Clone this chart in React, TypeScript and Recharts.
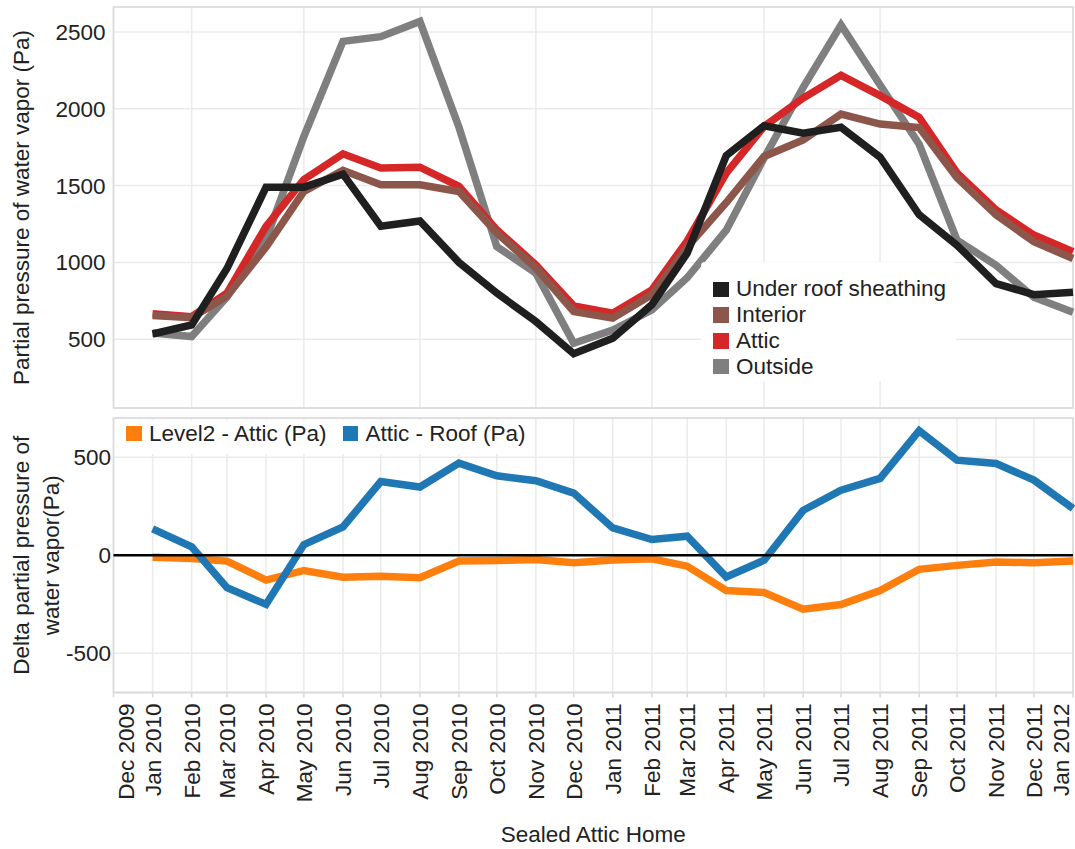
import React from 'react';
import { LineChart, Line, XAxis, YAxis, CartesianGrid, ReferenceLine, ReferenceArea } from 'recharts';

const FONT = '"Liberation Sans", Arial, sans-serif';
const TEXT = '#222';
const GRID = '#ebebeb';
const BORDER = '#d9d9d9';

// tick labels on the time axis (first one is the axis start, no data there)
const monthLabels = [
  'Dec 2009', 'Jan 2010', 'Feb 2010', 'Mar 2010', 'Apr 2010', 'May 2010', 'Jun 2010',
  'Jul 2010', 'Aug 2010', 'Sep 2010', 'Oct 2010', 'Nov 2010', 'Dec 2010', 'Jan 2011',
  'Feb 2011', 'Mar 2011', 'Apr 2011', 'May 2011', 'Jun 2011', 'Jul 2011', 'Aug 2011',
  'Sep 2011', 'Oct 2011', 'Nov 2011', 'Dec 2011', 'Jan 2012',
];
const pointMonths = monthLabels.slice(1);

// partial pressure of water vapor (Pa), Jan 2010 .. Jan 2012
const underRoof = [534, 593, 960, 1490, 1490, 1575, 1235, 1270, 1000, 800, 615, 405, 506, 725, 1060, 1695, 1890, 1842, 1880, 1685, 1310, 1112, 862, 790, 805];
const interior = [655, 640, 780, 1100, 1462, 1600, 1505, 1505, 1462, 1192, 964, 680, 637, 790, 1100, 1390, 1690, 1798, 1966, 1901, 1878, 1551, 1310, 1134, 1025];
const attic = [665, 647, 800, 1235, 1540, 1707, 1615, 1620, 1495, 1212, 984, 717, 669, 821, 1140, 1581, 1885, 2070, 2218, 2086, 1944, 1583, 1342, 1178, 1069];
const outside = [540, 517, 775, 1150, 1820, 2439, 2470, 2569, 1880, 1103, 930, 474, 560, 690, 900, 1210, 1680, 2140, 2546, 2155, 1769, 1145, 981, 773, 675];

// deltas (Pa)
const level2MinusAttic = [-10, -17, -30, -127, -78, -112, -107, -115, -30, -27, -22, -39, -25, -18, -56, -180, -190, -275, -252, -180, -72, -52, -35, -38, -30];
const atticMinusRoof = [134, 43, -166, -251, 54, 144, 376, 348, 470, 405, 380, 317, 139, 80, 97, -111, -26, 229, 332, 392, 635, 485, 468, 383, 238];

const topTicks = [500, 1000, 1500, 2000, 2500];
const bottomTicks = [-500, 0, 500];

const topSeries = [
  { key: 'underRoof', name: 'Under roof sheathing', color: '#1f1f1f' },
  { key: 'interior', name: 'Interior', color: '#8c564b' },
  { key: 'attic', name: 'Attic', color: '#d62728' },
  { key: 'outside', name: 'Outside', color: '#7f7f7f' },
];
const bottomSeries = [
  { key: 'level2MinusAttic', name: 'Level2 - Attic (Pa)', color: '#ff7f0e' },
  { key: 'atticMinusRoof', name: 'Attic - Roof (Pa)', color: '#1f77b4' },
];

const MONTHS: Record<string, number> = {
  Jan: 0, Feb: 1, Mar: 2, Apr: 3, May: 4, Jun: 5, Jul: 6, Aug: 7, Sep: 8, Oct: 9, Nov: 10, Dec: 11,
};
const toTime = (label: string) => {
  const [m, y] = label.split(' ');
  return Date.UTC(Number(y), MONTHS[m], 1);
};

const tickTimes = monthLabels.map(toTime);
const labelByTime = new Map(tickTimes.map((t, i) => [t, monthLabels[i]]));
const xDomain = [tickTimes[0], tickTimes[tickTimes.length - 1]];
const topDomain = [52, 2663];
const bottomDomain = [-700, 700];

const data = pointMonths.map((m, i) => ({
  t: toTime(m),
  underRoof: underRoof[i],
  interior: interior[i],
  attic: attic[i],
  outside: outside[i],
  level2MinusAttic: level2MinusAttic[i],
  atticMinusRoof: atticMinusRoof[i],
}));

const MonthTick = (props: any) => {
  const { x, y, payload } = props;
  const v = payload.value;
  // keep the end labels inside the axis range
  const shift = v === xDomain[0] ? 12.5 : v === xDomain[1] ? -12 : 0;
  return (
    <text
      transform={`translate(${x + shift},${y + 4}) rotate(-90)`}
      textAnchor="end"
      dy="0.355em"
      fontSize={22.5}
      fill={TEXT}
      fontFamily={FONT}
    >
      {labelByTime.get(v)}
    </text>
  );
};

const yTitle = (lines: string[]) => (props: any) => {
  const vb = props.viewBox;
  const cy = vb.y + vb.height / 2;
  return (
    <g>
      {lines.map((line, i) => {
        const x = vb.x + 29 + i * 30.5;
        return (
          <text
            key={i}
            x={x}
            y={cy}
            transform={`rotate(-90, ${x}, ${cy})`}
            textAnchor="middle"
            fontSize={22.5}
            fill={TEXT}
            fontFamily={FONT}
          >
            {line}
          </text>
        );
      })}
    </g>
  );
};

const xTitle = (props: any) => {
  const vb = props.viewBox;
  return (
    <text x={vb.x + vb.width / 2} y={vb.y + 150} textAnchor="middle" fontSize={22.5} fill={TEXT} fontFamily={FONT}>
      Sealed Attic Home
    </text>
  );
};

const swatch = (color: string) => (
  <span style={{ display: 'inline-block', width: 15.5, height: 15.5, background: color, marginRight: 7.5 }} />
);

const App: React.FC = () => {
  return (
    <div style={{ position: 'relative', width: 1075, height: 849, fontFamily: FONT, color: TEXT }}>
      <style>{'body{margin:0}'}</style>
      <LineChart width={1075} height={410} data={data} margin={{ top: 7, right: 2, bottom: 2, left: 0 }}>
        <CartesianGrid stroke={GRID} strokeWidth={1.5} />
        <XAxis dataKey="t" type="number" domain={xDomain} ticks={tickTimes} hide />
        <YAxis
          type="number"
          domain={topDomain}
          ticks={topTicks}
          allowDataOverflow
          width={113.5}
          axisLine={false}
          tickLine={false}
          tickSize={6}
          tickMargin={2}
          tick={{ fontSize: 22.5, fill: TEXT, fontFamily: FONT }}
          label={{ content: yTitle(['Partial pressure of water vapor (Pa)']) }}
        />
        <ReferenceArea x1={xDomain[0]} x2={xDomain[1]} y1={topDomain[0]} y2={topDomain[1]} fill="none" stroke={BORDER} strokeWidth={1.5} />
        {[...topSeries].reverse().map(s => (
          <Line
            key={s.key}
            type="linear"
            dataKey={s.key}
            name={s.name}
            stroke={s.color}
            strokeWidth={7.5}
            dot={false}
            activeDot={false}
            isAnimationActive={false}
          />
        ))}
      </LineChart>
      <LineChart width={1075} height={439} data={data} margin={{ top: 8, right: 2, bottom: 0, left: 0 }}>
        <CartesianGrid stroke={GRID} strokeWidth={1.5} />
        <XAxis
          dataKey="t"
          type="number"
          domain={xDomain}
          ticks={tickTimes}
          interval={0}
          height={156.6}
          axisLine={{ stroke: BORDER, strokeWidth: 1.5 }}
          tickLine={{ stroke: BORDER, strokeWidth: 1.5 }}
          tickSize={5}
          tickMargin={2}
          tick={<MonthTick />}
          label={{ content: xTitle }}
        />
        <YAxis
          type="number"
          domain={bottomDomain}
          ticks={bottomTicks}
          allowDataOverflow
          width={113.5}
          axisLine={false}
          tickLine={false}
          tickSize={0}
          tickMargin={2.5}
          tick={{ fontSize: 22.5, fill: TEXT, fontFamily: FONT }}
          label={{ content: yTitle(['Delta partial pressure of', 'water vapor(Pa)']) }}
        />
        <ReferenceArea x1={xDomain[0]} x2={xDomain[1]} y1={bottomDomain[0]} y2={bottomDomain[1]} fill="none" stroke={BORDER} strokeWidth={1.5} />
        {bottomSeries.map(s => (
          <Line
            key={s.key}
            type="linear"
            dataKey={s.key}
            name={s.name}
            stroke={s.color}
            strokeWidth={7.5}
            dot={false}
            activeDot={false}
            isAnimationActive={false}
          />
        ))}
        <ReferenceLine y={0} stroke="#000" strokeWidth={2.5} />
      </LineChart>

      {/* legends */}
      <div
        style={{
          position: 'absolute', left: 701, top: 262, width: 255, height: 119, background: '#fff',
          borderRadius: 4, paddingTop: 14.4, paddingLeft: 12, boxSizing: 'border-box', fontSize: 22.5,
        }}
      >
        {topSeries.map(s => (
          <div key={s.key} style={{ display: 'flex', alignItems: 'center', height: 25.8, whiteSpace: 'nowrap' }}>
            {swatch(s.color)}
            <span>{s.name}</span>
          </div>
        ))}
      </div>
      <div
        style={{
          position: 'absolute', left: 115, top: 419.5, width: 420, height: 34, background: '#fff',
          paddingLeft: 11, paddingTop: 1, boxSizing: 'border-box', fontSize: 22.5, display: 'flex',
        }}
      >
        {bottomSeries.map(s => (
          <div key={s.key} style={{ display: 'flex', alignItems: 'center', height: 26, marginRight: 16, whiteSpace: 'nowrap' }}>
            {swatch(s.color)}
            <span>{s.name}</span>
          </div>
        ))}
      </div>
    </div>
  );
};

export default App;
